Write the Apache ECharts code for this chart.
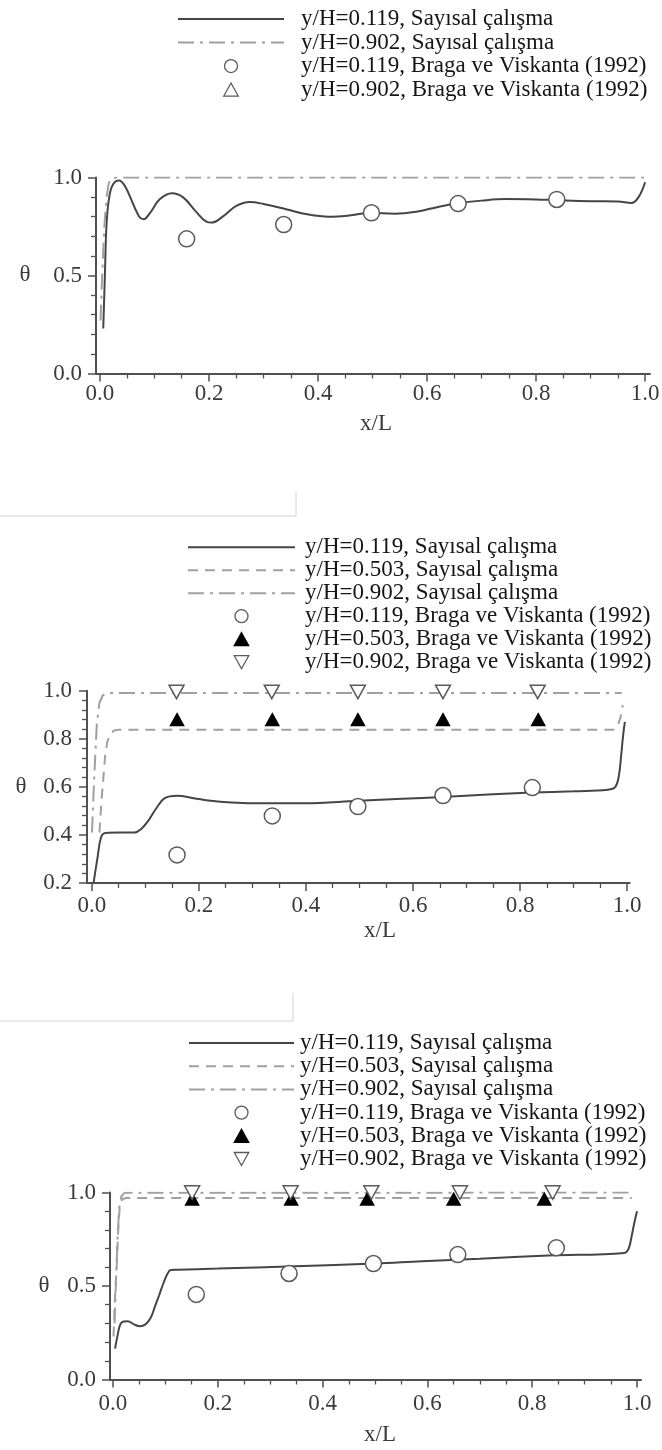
<!DOCTYPE html>
<html>
<head>
<meta charset="utf-8">
<script src="https://cdn.jsdelivr.net/npm/echarts@6/dist/echarts.min.js"></script>
<style>
html, body { margin: 0; padding: 0; background: #fff; }
.panel { position: absolute; left: 0; width: 662px; }
</style>
</head>
<body>
<div id="c1" class="panel" style="top:0;height:480px"></div>
<div id="c2" class="panel" style="top:480px;height:500px"></div>
<div id="c3" class="panel" style="top:980px;height:470px"></div>
<script>
// series names (legend texts)
var nSim119 = 'y/H=0.119, Sayısal çalışma';
var nSim503 = 'y/H=0.503, Sayısal çalışma';
var nSim902 = 'y/H=0.902, Sayısal çalışma';
var nExp119 = 'y/H=0.119, Braga ve Viskanta (1992)';
var nExp503 = 'y/H=0.503, Braga ve Viskanta (1992)';
var nExp902 = 'y/H=0.902, Braga ve Viskanta (1992)';

// tick values
var xTicks = [0, 0.2, 0.4, 0.6, 0.8, 1.0];
var xMinorTicks = [0.05, 0.1, 0.15, 0.25, 0.3, 0.35, 0.45, 0.5, 0.55, 0.65, 0.7, 0.75, 0.85, 0.9, 0.95];

// ---- panel 1 ----
var p1Solid = [[0.006,0.23],[0.009,0.5],[0.012,0.76],[0.017,0.9],[0.024,0.965],[0.035,0.985],[0.046,0.955],
  [0.060,0.87],[0.072,0.80],[0.080,0.787],[0.092,0.82],[0.110,0.89],[0.132,0.92],[0.152,0.90],[0.175,0.83],
  [0.195,0.775],[0.205,0.77],[0.225,0.80],[0.250,0.855],[0.275,0.875],[0.300,0.865],[0.343,0.837],[0.380,0.812],
  [0.420,0.80],[0.460,0.807],[0.497,0.82],[0.540,0.815],[0.580,0.825],[0.620,0.85],[0.653,0.867],[0.700,0.882],
  [0.745,0.89],[0.800,0.888],[0.838,0.884],[0.900,0.879],[0.950,0.878],[0.975,0.87],[0.988,0.9],[1.0,0.976]];
var p1DashDot = [[0.001,0.27],[0.004,0.5],[0.008,0.75],[0.012,0.9],[0.016,0.97],[0.021,0.995],[0.03,1.0],[1.0,1.0]];
var p1ExpX119 = [0.159, 0.337, 0.498, 0.657, 0.838];
var p1Exp119 = [0.687, 0.76, 0.82, 0.867, 0.888];
var p1ExpX902 = [0.148, 0.324, 0.486, 0.649, 0.823];
var p1Exp902 = [1.01, 1.01, 1.01, 1.01, 1.01];

// ---- panel 2 ----
var p2Solid = [[0.003,0.20],[0.010,0.30],[0.017,0.39],[0.025,0.408],[0.05,0.41],[0.08,0.41],[0.092,0.425],
  [0.104,0.455],[0.120,0.51],[0.136,0.553],[0.159,0.563],[0.190,0.553],[0.222,0.542],[0.260,0.535],[0.300,0.532],
  [0.396,0.532],[0.498,0.542],[0.580,0.55],[0.656,0.558],[0.740,0.568],[0.822,0.576],[0.900,0.582],[0.964,0.588],
  [0.978,0.60],[0.985,0.65],[0.989,0.73],[0.993,0.82],[0.996,0.87]];
var p2Dashed = [[0.014,0.41],[0.018,0.55],[0.021,0.63],[0.025,0.74],[0.029,0.79],[0.035,0.823],[0.042,0.835],
  [0.05,0.838],[0.975,0.838],[0.982,0.85],[0.988,0.89],[0.992,0.94]];
var p2DashDot = [[0.0,0.41],[0.004,0.63],[0.009,0.86],[0.014,0.95],[0.02,0.98],[0.027,0.99],[0.99,0.99]];
var p2ExpX119 = [0.159, 0.337, 0.497, 0.656, 0.823];
var p2Exp119 = [0.317, 0.479, 0.518, 0.564, 0.597];
var p2ExpX503 = [0.159, 0.337, 0.497, 0.656, 0.834];
var p2Exp503 = [0.88, 0.88, 0.88, 0.88, 0.88];
var p2ExpX902 = [0.158, 0.336, 0.497, 0.656, 0.833];
var p2Exp902 = [0.995, 0.995, 0.995, 0.995, 0.995];

// ---- panel 3 ----
var p3Solid = [[0.004,0.165],[0.009,0.24],[0.014,0.295],[0.020,0.31],[0.028,0.312],[0.040,0.295],[0.051,0.285],
  [0.062,0.295],[0.072,0.33],[0.080,0.39],[0.088,0.45],[0.097,0.52],[0.104,0.565],[0.110,0.585],[0.122,0.587],
  [0.2,0.593],[0.348,0.606],[0.5,0.62],[0.59,0.633],[0.7,0.646],[0.831,0.663],[0.976,0.677],[0.984,0.7],
  [0.990,0.77],[0.995,0.84],[1.0,0.9]];
var p3Dashed = [[0.001,0.23],[0.004,0.45],[0.007,0.6],[0.01,0.8],[0.013,0.93],[0.018,0.965],[0.025,0.971],[0.99,0.971]];
var p3DashDot = [[0.003,0.3],[0.006,0.55],[0.009,0.78],[0.012,0.92],[0.016,0.98],[0.022,0.998],[0.99,1.0]];
var p3ExpX119 = [0.159, 0.336, 0.497, 0.658, 0.846];
var p3Exp119 = [0.455, 0.567, 0.62, 0.668, 0.704];
var p3ExpX503 = [0.151, 0.34, 0.485, 0.65, 0.823];
var p3Exp503 = [0.965, 0.965, 0.965, 0.965, 0.965];
var p3ExpX902 = [0.151, 0.339, 0.493, 0.662, 0.839];
var p3Exp902 = [1.0, 1.0, 1.0, 1.0, 1.0];

var fontFam = '"Liberation Serif", "Times New Roman", serif';
var axisColor = '#505050';
// path symbols so the legend keeps them square
var triUp = 'path://M10,0L20,18L0,18Z';
var triDown = 'path://M0,0L20,0L10,18Z';

function zip(xs, ys) {
	return xs.map(function (x, i) { return [x, ys[i]]; });
}

function lineSeries(name, data, kind) {
	var st = {
		solid: { color: '#454545', type: 'solid', smooth: 0.4 },
		dashed: { color: '#a0a0a0', type: [10, 7], smooth: false },
		dashdot: { color: '#a0a0a0', type: [16, 6, 3, 6], smooth: false }
	}[kind];
	return {
		name: name, type: 'line', data: data, symbol: 'none',
		smooth: st.smooth,
		lineStyle: { color: st.color, width: 2, type: st.type },
		// keeps the legend icon a bare line
		itemStyle: { color: 'transparent', borderColor: 'transparent', borderWidth: 0 },
		z: 2
	};
}

function markerSeries(name, data, kind) {
	var m = {
		circle: { symbol: 'circle', fill: '#fff', stroke: '#5a5a5a', size: 16 },
		up: { symbol: triUp, fill: '#fff', stroke: '#5a5a5a', size: 15 },
		upFilled: { symbol: triUp, fill: '#000', stroke: '#000', size: 13 },
		down: { symbol: triDown, fill: '#fff', stroke: '#5a5a5a', size: 15 }
	}[kind];
	return {
		name: name, type: 'scatter', data: data,
		symbol: m.symbol, symbolSize: m.size, symbolKeepAspect: true,
		itemStyle: { color: m.fill, borderColor: m.stroke, borderWidth: 1.5, opacity: 1 },
		z: 3
	};
}

function makeOption(p) {
	return {
		animation: false,
		backgroundColor: '#fff',
		grid: { left: p.left, top: p.top, width: p.width, height: p.height, outerBoundsMode: 'none' },
		legend: {
			orient: 'vertical', left: p.legLeft, top: p.legTop, padding: 0, itemGap: 0,
			itemWidth: p.legItemWidth, itemHeight: 13, selectedMode: false,
			symbolKeepAspect: true,
			itemStyle: { borderWidth: 1.3 },
			textStyle: { fontFamily: fontFam, fontSize: 23, color: '#151515',
				lineHeight: p.legRow, padding: [0, 0, 0, p.legTextPad] },
			data: p.legendNames
		},
		xAxis: [{
			type: 'value', min: p.xMin, max: p.xMax, position: 'bottom',
			axisLine: { show: true, onZero: false, lineStyle: { color: axisColor, width: 2 } },
			axisTick: { show: true, customValues: xTicks, length: 8, lineStyle: { color: axisColor, width: 1.5 } },
			axisLabel: { customValues: xTicks, margin: p.xLabelMargin, fontFamily: fontFam, fontSize: 23, color: '#3a3a3a',
				formatter: function (v) { return v.toFixed(1); } },
			splitLine: { show: false }
		}, {
			type: 'value', min: p.xMin, max: p.xMax, position: 'bottom',
			axisLine: { show: false, onZero: false },
			axisTick: { show: true, customValues: xMinorTicks, length: 5, lineStyle: { color: axisColor, width: 1.3 } },
			axisLabel: { show: false },
			splitLine: { show: false }
		}],
		yAxis: {
			type: 'value', min: p.yMin, max: p.yMax, interval: p.yInterval, position: 'left',
			axisLine: { show: true, onZero: false, lineStyle: { color: axisColor, width: 2 } },
			axisTick: { show: true, length: 8, lineStyle: { color: axisColor, width: 1.5 } },
			minorTick: { show: true, splitNumber: 5, length: 5, lineStyle: { color: axisColor, width: 1.3 } },
			axisLabel: { margin: p.yLabelMargin, fontFamily: fontFam, fontSize: 23, color: '#3a3a3a',
				formatter: function (v) { return v.toFixed(1); } },
			splitLine: { show: false },
			minorSplitLine: { show: false }
		},
		graphic: p.graphic,
		series: p.series
	};
}

function label(text, x, y) {
	return {
		type: 'text', x: x, y: y, silent: true,
		style: { text: text, font: '23px ' + fontFam, fill: '#3a3a3a',
			align: 'center', verticalAlign: 'middle', textAlign: 'center', textVerticalAlign: 'middle' }
	};
}

function boxLine(pts) {
	return { type: 'polyline', silent: true, shape: { points: pts },
		style: { stroke: '#d2d2d2', lineWidth: 1, fill: null } };
}

var chart1 = echarts.init(document.getElementById('c1'));
chart1.setOption(makeOption({
	left: 96, top: 177.5, width: 554, height: 196,
	xMin: -0.0073, xMax: 1.009, yMin: 0, yMax: 1, yInterval: 0.5,
	xLabelMargin: 9, yLabelMargin: 14,
	legLeft: 177, legTop: 7.3, legItemWidth: 106, legRow: 23.5, legTextPad: 12,
	legendNames: [nSim119, nSim902, nExp119, nExp902],
	graphic: [label('θ', 25, 275), label('x/L', 376, 424)],
	series: [
		lineSeries(nSim119, p1Solid, 'solid'),
		lineSeries(nSim902, p1DashDot, 'dashdot'),
		markerSeries(nExp119, zip(p1ExpX119, p1Exp119), 'circle'),
		markerSeries(nExp902, zip(p1ExpX902, p1Exp902), 'up')
	]
}));

var chart2 = echarts.init(document.getElementById('c2'));
chart2.setOption(makeOption({
	left: 87, top: 210.7, width: 542.7, height: 192.3,
	xMin: -0.0093, xMax: 1.005, yMin: 0.2, yMax: 1.0, yInterval: 0.2,
	xLabelMargin: 11, yLabelMargin: 15,
	legLeft: 187, legTop: 55.7, legItemWidth: 107, legRow: 22.6, legTextPad: 5,
	legendNames: [nSim119, nSim503, nSim902, nExp119, nExp503, nExp902],
	graphic: [boxLine([[0, 36], [296, 36], [296, 12]]), label('θ', 21, 307), label('x/L', 380, 451)],
	series: [
		lineSeries(nSim119, p2Solid, 'solid'),
		lineSeries(nSim503, p2Dashed, 'dashed'),
		lineSeries(nSim902, p2DashDot, 'dashdot'),
		markerSeries(nExp119, zip(p2ExpX119, p2Exp119), 'circle'),
		markerSeries(nExp503, zip(p2ExpX503, p2Exp503), 'upFilled'),
		markerSeries(nExp902, zip(p2ExpX902, p2Exp902), 'down')
	]
}));

var chart3 = echarts.init(document.getElementById('c3'));
chart3.setOption(makeOption({
	left: 110, top: 212.5, width: 531, height: 187,
	xMin: -0.0057, xMax: 1.0076, yMin: 0, yMax: 1, yInterval: 0.5,
	xLabelMargin: 13, yLabelMargin: 14,
	legLeft: 188, legTop: 51.4, legItemWidth: 105, legRow: 23.2, legTextPad: 1,
	legendNames: [nSim119, nSim503, nSim902, nExp119, nExp503, nExp902],
	graphic: [boxLine([[0, 41], [293, 41], [293, 13]]), label('θ', 44, 306), label('x/L', 380, 455)],
	series: [
		lineSeries(nSim119, p3Solid, 'solid'),
		lineSeries(nSim503, p3Dashed, 'dashed'),
		lineSeries(nSim902, p3DashDot, 'dashdot'),
		markerSeries(nExp119, zip(p3ExpX119, p3Exp119), 'circle'),
		markerSeries(nExp503, zip(p3ExpX503, p3Exp503), 'upFilled'),
		markerSeries(nExp902, zip(p3ExpX902, p3Exp902), 'down')
	]
}));
</script>
</body>
</html>
